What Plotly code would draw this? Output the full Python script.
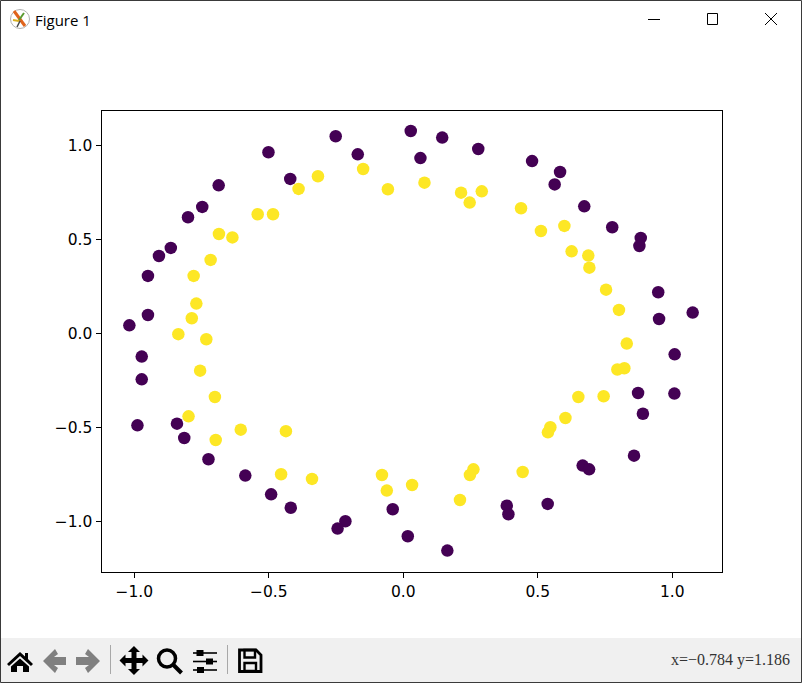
import plotly.graph_objects as go

W, H = 802, 683

outer_x = [-1.018, -0.949, -0.949, -0.908, -0.864, -0.800, -0.747, -0.686, -0.501, -0.420, -0.251, -0.169,
           0.028, 0.145, 0.064, 0.279, 0.479, 0.583, 0.563, 0.673, 0.777, 0.883, 0.878, 0.948, 1.076, 0.951,
           -0.972, -0.972, -0.988, -0.841, -0.814, -0.724, -0.587, -0.491, -0.418, -0.215, -0.244, -0.039, 0.017,
           1.009, 1.008, 0.873, 0.891, 0.858, 0.667, 0.691, 0.537, 0.385, 0.391, 0.164]
outer_y = [0.042, 0.097, 0.305, 0.411, 0.454, 0.617, 0.672, 0.787, 0.963, 0.821, 1.048, 0.952,
           1.076, 1.041, 0.932, 0.980, 0.916, 0.858, 0.792, 0.675, 0.564, 0.507, 0.464, 0.218, 0.110, 0.076,
           -0.124, -0.245, -0.490, -0.481, -0.557, -0.670, -0.757, -0.857, -0.928, -1.000, -1.039, -0.936, -1.080,
           -0.112, -0.321, -0.318, -0.428, -0.651, -0.704, -0.724, -0.908, -0.917, -0.963, -1.156]
inner_x = [-0.836, -0.732, -0.786, -0.769, -0.779, -0.716, -0.685, -0.635, -0.541, -0.484, -0.389, -0.317,
           -0.149, -0.057, 0.079, 0.215, 0.292, 0.247, 0.438, 0.512, 0.599, 0.626, 0.688, 0.692, 0.754, 0.802, 0.831,
           -0.755, -0.700, -0.798, -0.697, -0.604, -0.436, -0.454, -0.339, -0.079, -0.061, 0.033,
           0.796, 0.822, 0.651, 0.745, 0.603, 0.547, 0.538, 0.261, 0.248, 0.211, 0.444]
inner_y = [-0.005, -0.032, 0.080, 0.158, 0.305, 0.390, 0.528, 0.510, 0.633, 0.633, 0.768, 0.835,
           0.874, 0.766, 0.801, 0.748, 0.755, 0.695, 0.665, 0.544, 0.571, 0.436, 0.413, 0.349, 0.232, 0.124, -0.055,
           -0.199, -0.339, -0.442, -0.568, -0.513, -0.521, -0.750, -0.775, -0.754, -0.837, -0.807,
           -0.193, -0.186, -0.339, -0.335, -0.451, -0.500, -0.527, -0.724, -0.754, -0.887, -0.738]
x_ticks = [-1.0, -0.5, 0.0, 0.5, 1.0]
y_ticks = [-1.0, -0.5, 0.0, 0.5, 1.0]
x_range = [-1.1216, 1.185]
y_range = [-1.27, 1.185]
window_title = "Figure 1"
status_text = "x=\u22120.784 y=1.186"

COLOR_OUTER = "#440154"
COLOR_INNER = "#fde725"


def px(x):
    return x / W


def py(y):
    return 1 - y / H


def path(cmds):
    out = []
    for c in cmds:
        if c == "Z":
            out.append("Z")
        else:
            out.append(f"{c[0]}{px(c[1]):.5f},{py(c[2]):.5f}")
    return " ".join(out)


def poly(points):
    return path([("M", *points[0])] + [("L", *p) for p in points[1:]] + ["Z"])


shapes = []


def add_poly(points, fill="#000000", line=None, width=0):
    shapes.append(dict(type="path", xref="paper", yref="paper", path=poly(points), fillcolor=fill,
                       line=dict(color=line or fill, width=width), layer="above"))


def add_line(x0, y0, x1, y1, color="#000000", width=1):
    shapes.append(dict(type="line", xref="paper", yref="paper", x0=px(x0), x1=px(x1), y0=py(y0), y1=py(y1),
                       line=dict(color=color, width=width), layer="above"))


def add_rect(x0, y0, x1, y1, fill=None, line=None, width=0):
    shapes.append(dict(type="rect", xref="paper", yref="paper", x0=px(x0), x1=px(x1), y0=py(y0), y1=py(y1),
                       fillcolor=fill or "rgba(0,0,0,0)", line=dict(color=line or "rgba(0,0,0,0)", width=width),
                       layer="above"))


def add_circle(cx, cy, r, fill=None, line=None, width=0):
    add_rect(cx - r, cy - r, cx + r, cy + r, fill, line, width)
    shapes[-1]["type"] = "circle"


# toolbar band
add_rect(0, 638, W, H, fill="#f0f0f0")
# window frame
add_rect(0.5, 0.5, W - 0.5, H - 0.5, line="#3a3a3a", width=1)

# window icon
add_circle(20, 19, 9.5, fill="#ffffff", line="#b0b0b0", width=1)
add_line(14, 11, 25, 26, "#e0641c", 3)
add_line(24, 13, 19, 20, "#5a9a30", 2)
add_line(13, 20, 19, 21, "#d8b020", 2)
add_line(20, 21, 17, 27, "#4a4a4a", 1.5)

# window controls
add_line(648, 19.5, 660, 19.5, "#000000", 1)
add_rect(707.5, 13.5, 717.5, 24.5, line="#000000", width=1)
add_line(765, 13, 777, 25, "#000000", 1)
add_line(777, 13, 765, 25, "#000000", 1)

# home
add_poly([(20, 652), (25, 656.5), (25, 653), (28, 653), (28, 659), (33, 664), (31, 666), (20, 656), (9, 666), (7, 664)])
add_poly([(20, 658.5), (29, 666.5), (29, 672), (23, 672), (23, 666), (17, 666), (17, 672), (11, 672), (11, 666.5)])
# back / forward
add_poly([(55, 649), (58, 654), (54, 657), (66, 657), (66, 665), (54, 665), (58, 668), (55, 673), (43, 661)], fill="#808080")
add_poly([(88, 649), (85, 654), (89, 657), (76, 657), (76, 665), (89, 665), (85, 668), (88, 673), (100, 661)], fill="#808080")
# separators
add_line(110.5, 645, 110.5, 674, "#a8a8a8", 1)
add_line(227.5, 645, 227.5, 674, "#a8a8a8", 1)
# pan
add_poly([(134, 646), (140, 652), (136.5, 652), (136.5, 658), (142.5, 658), (142.5, 654.5), (148.5, 660.5),
          (142.5, 666.5), (142.5, 663), (136.5, 663), (136.5, 669), (140, 669), (134, 675), (128, 669), (131.5, 669),
          (131.5, 663), (125.5, 663), (125.5, 666.5), (119.5, 660.5), (125.5, 654.5), (125.5, 658), (131.5, 658),
          (131.5, 652), (128, 652)])
# zoom
add_circle(167, 658.5, 8.5, line="#000000", width=3.5)
add_line(173.5, 665, 181.5, 673, "#000000", 4)
# subplots
for ly, kx in [(653, 200), (661.5, 209.5), (670, 200.5)]:
    add_line(193, ly, 217, ly, "#000000", 1.6)
    add_rect(kx - 3.5, ly - 3, kx + 3.5, ly + 3, fill="#000000")
# save
add_poly([(239.5, 650), (256, 650), (261, 655), (261, 671.5), (239.5, 671.5)], fill="rgba(0,0,0,0)", line="#000000", width=2.8)
add_rect(244.5, 650, 255, 657.5, line="#000000", width=2.4)
add_rect(244.5, 663, 256, 671, line="#000000", width=2.4)

annotations = [
    dict(text=window_title, xref="paper", yref="paper", x=px(33), y=py(19.5), xanchor="left", yanchor="middle",
         showarrow=False, font=dict(family="Open Sans", size=15, color="#000000")),
    dict(text=status_text, xref="paper", yref="paper", x=px(792), y=py(660), xanchor="right", yanchor="middle",
         showarrow=False, font=dict(family="Liberation Serif", size=16, color="#333333")),
]

fig = go.Figure()
fig.add_trace(go.Scatter(x=outer_x, y=outer_y, mode="markers", name="outer",
                         marker=dict(color=COLOR_OUTER, size=12.5, line=dict(width=0))))
fig.add_trace(go.Scatter(x=inner_x, y=inner_y, mode="markers", name="inner",
                         marker=dict(color=COLOR_INNER, size=12.5, line=dict(width=0))))

axis_common = dict(showgrid=False, zeroline=False, showline=True, mirror=True, linecolor="#000000", linewidth=1,
                   ticks="outside", ticklen=5, tickwidth=1, tickcolor="#000000", tickformat=".1f",
                   tickfont=dict(family="DejaVu Sans", size=15.5, color="#000000"))
fig.update_layout(
    width=W, height=H, autosize=False, margin=dict(l=0, r=0, t=0, b=0),
    paper_bgcolor="#ffffff", plot_bgcolor="#ffffff", showlegend=False,
    xaxis=dict(domain=[px(101.5), px(722)], range=x_range, tickvals=x_ticks, **axis_common),
    yaxis=dict(domain=[py(572), py(110.5)], range=y_range, tickvals=y_ticks, **axis_common),
    shapes=shapes, annotations=annotations,
)
fig.write_html("out.html", config=dict(displayModeBar=False),
               post_script="document.body.style.margin='0';document.body.style.overflow='hidden';")
